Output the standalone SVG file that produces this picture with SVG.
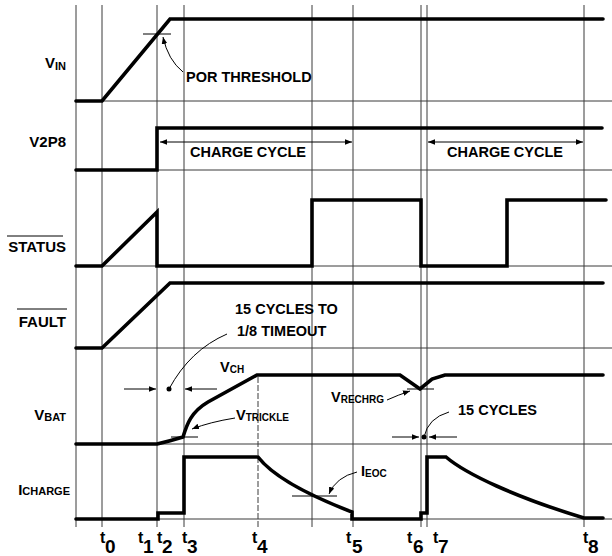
<svg xmlns="http://www.w3.org/2000/svg" width="612" height="556" viewBox="0 0 612 556">
<defs>
<style>
.grid{stroke:#3a3a3a;stroke-width:1;fill:none}
.wave{stroke:#000;stroke-width:3.6;fill:none;stroke-linejoin:miter;stroke-linecap:round}
.thin{stroke:#000;stroke-width:1;fill:none}
.lbl{font-family:"Liberation Sans",Arial,sans-serif;font-weight:bold;font-size:15px;fill:#000}
.ann{font-family:"Liberation Sans",Arial,sans-serif;font-weight:bold;font-size:14.5px;fill:#000}
.sub{font-size:11px}
.sub2{font-size:10px}
.tt{font-family:"Liberation Sans",Arial,sans-serif;font-weight:bold;font-size:16px;fill:#000}
.td{font-size:19px}
</style>
<marker id="ah" viewBox="0 0 10 10" refX="10" refY="5" markerWidth="7" markerHeight="7" markerUnits="userSpaceOnUse" orient="auto">
<path d="M0,1 L10,5 L0,9 Z" fill="#000"/>
</marker>
</defs>
<rect width="612" height="556" fill="#fff"/>

<g id="grid">
<path class="grid" d="M76,101H612M76,170H612M76,266H612M76,348H612M76,444H612M76,519H612"/>
<path class="grid" d="M76,5V527M102,5V527M157,5V527M184,5V527M312,5V527M353,5V527M421,5V527M427,5V527M584,5V527"/>
<path class="grid" d="M258,377V527" stroke-dasharray="6,2"/>
</g>

<g id="labels">
<text class="lbl" x="66" y="68" text-anchor="end">V<tspan class="sub" dy="2">IN</tspan></text>
<text class="lbl" x="66" y="147" text-anchor="end">V2P8</text>
<text class="lbl" x="66" y="252" text-anchor="end">STATUS</text>
<line class="thin" x1="7" y1="236" x2="63" y2="236"/>
<text class="lbl" x="66" y="327" text-anchor="end">FAULT</text>
<line class="thin" x1="17" y1="309" x2="67" y2="309"/>
<text class="lbl" x="66" y="420" text-anchor="end">V<tspan class="sub" dy="1">BAT</tspan></text>
<text class="lbl" x="70" y="495" text-anchor="end">I<tspan class="sub">CHARGE</tspan></text>
</g>

<g id="vin">
<path class="wave" d="M76,101H102L170,19H603"/>
<line class="thin" x1="143" y1="34" x2="171" y2="34"/>
</g>
<g id="v2p8">
<path class="wave" d="M76,170H157V128H602"/>
</g>
<g id="status">
<path class="wave" d="M76,266H102L157,212V266H312V200H421V266H507V200H606"/>
</g>
<g id="fault">
<path class="wave" d="M76,348H102L170,283H603"/>
</g>
<g id="vbat">
<path class="wave" d="M76,444H157Q170,441 183,437C187,424 191,412 208,402L257,375H400L420,389L432,379L445,375H603"/>
<line class="thin" x1="171" y1="437" x2="198" y2="437"/>
<line class="thin" x1="407" y1="389" x2="434" y2="389"/>
</g>
<g id="icharge">
<path class="wave" d="M76,519H158V513H184V457H258C272,475 300,492 352,512V519H421V513H427V457H446C466,474 515,497 584,518H603"/>
<line class="thin" x1="292" y1="496" x2="337" y2="496"/>
</g>

<g id="connectors">
<path class="thin" d="M183,72Q168,60 163,37" marker-end="url(#ah)"/>
<line class="thin" x1="250" y1="142" x2="160" y2="142" marker-end="url(#ah)"/>
<line class="thin" x1="250" y1="142" x2="352" y2="142" marker-end="url(#ah)"/>
<line class="thin" x1="500" y1="142" x2="428" y2="142" marker-end="url(#ah)"/>
<line class="thin" x1="500" y1="142" x2="583" y2="142" marker-end="url(#ah)"/>
<path class="thin" d="M227,334Q190,350 169,389"/>
<circle cx="169" cy="389" r="2.5" fill="#000"/>
<line class="thin" x1="124" y1="389" x2="156" y2="389" marker-end="url(#ah)"/>
<line class="thin" x1="217" y1="389" x2="185" y2="389" marker-end="url(#ah)"/>
<path class="thin" d="M235,418Q210,422 192,429" marker-end="url(#ah)"/>
<path class="thin" d="M387,400Q398,395 410,391" marker-end="url(#ah)"/>
<path class="thin" d="M449,412Q428,418 424,437"/>
<circle cx="424" cy="437" r="2.5" fill="#000"/>
<line class="thin" x1="392" y1="437" x2="419" y2="437" marker-end="url(#ah)"/>
<line class="thin" x1="457" y1="437" x2="429" y2="437" marker-end="url(#ah)"/>
<path class="thin" d="M357,472Q336,477 329,494" marker-end="url(#ah)"/>
</g>

<g id="annotations">
<text class="ann" x="186" y="82">POR THRESHOLD</text>
<text class="ann" x="190" y="157">CHARGE CYCLE</text>
<text class="ann" x="447" y="157">CHARGE CYCLE</text>
<text class="ann" x="235" y="314">15 CYCLES TO</text>
<text class="ann" x="237" y="336">1/8 TIMEOUT</text>
<text class="ann" x="220" y="372">V<tspan class="sub2" dy="1">CH</tspan></text>
<text class="ann" x="236" y="420">V<tspan class="sub2" dy="1">TRICKLE</tspan></text>
<text class="ann" x="331" y="402">V<tspan class="sub2" dy="1">RECHRG</tspan></text>
<text class="ann" x="458" y="415">15 CYCLES</text>
<text class="ann" x="361" y="476">I<tspan class="sub2" dy="1">EOC</tspan></text>
</g>

<g id="times">
<text class="tt" x="100" y="543">t<tspan class="td" x="105" y="553">0</tspan></text>
<text class="tt" x="138" y="543">t<tspan class="td" x="143" y="553">1</tspan></text>
<text class="tt" x="157" y="543">t<tspan class="td" x="162" y="553">2</tspan></text>
<text class="tt" x="182" y="543">t<tspan class="td" x="187" y="553">3</tspan></text>
<text class="tt" x="252" y="543">t<tspan class="td" x="257" y="553">4</tspan></text>
<text class="tt" x="346" y="543">t<tspan class="td" x="352" y="553">5</tspan></text>
<text class="tt" x="407" y="543">t<tspan class="td" x="413" y="553">6</tspan></text>
<text class="tt" x="433" y="543">t<tspan class="td" x="438" y="553">7</tspan></text>
<text class="tt" x="583" y="543">t<tspan class="td" x="588" y="553">8</tspan></text>
</g>
</svg>
